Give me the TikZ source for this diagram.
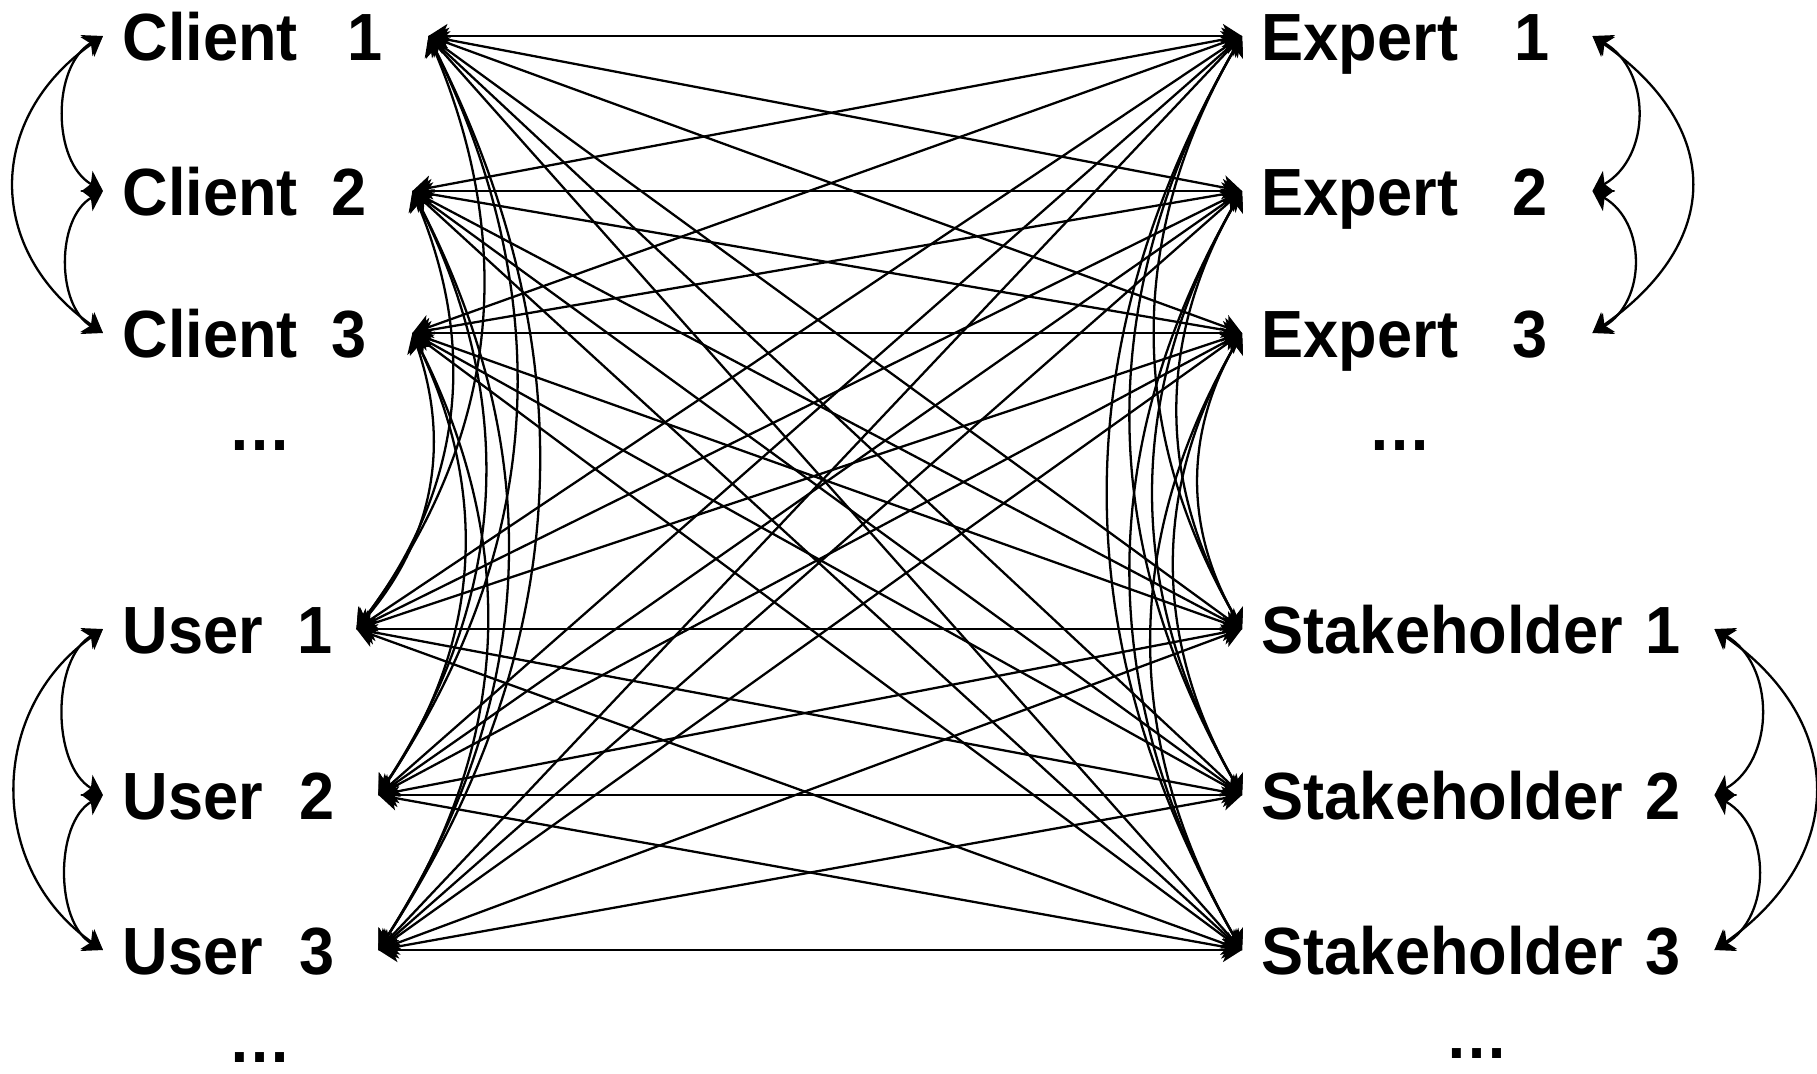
\documentclass[tikz,border=0pt]{standalone}
\usepackage{fontspec}
\usepackage{tikz}
\usetikzlibrary{arrows.meta}
\newfontfamily\lblfont{Liberation Sans}[FakeStretch=0.945]

\begin{document}
\begin{tikzpicture}[every node/.style={font=\lblfont\bfseries\fontsize{19}{22}\selectfont},
	lbl/.style={anchor=west, inner xsep=0.19cm, inner ysep=0pt, text height=0.48cm, text depth=0pt, align=left},
	more/.style={anchor=base, inner sep=0pt},
	link/.style={line width=0.65pt, >={Stealth[length=0.19cm, width=0.24cm, inset=0.05cm]}, <->}]
	\useasboundingbox (0,0) rectangle (18.17,-10.73);
	\foreach \y/\w/\txt[count = \i] in {-0.36/2.86/{Client\hspace{0.50cm}1}, -1.91/2.70/{Client\hspace{0.34cm}2}, -3.33/2.70/{Client\hspace{0.34cm}3}}
	{
		\node[lbl, text width=\w cm](c\i) at (1.03,\y){\txt};
	}
	\foreach \y/\w/\txt[count = \i] in {-6.29/2.14/{User\hspace{0.35cm}1}, -7.95/2.36/{User\hspace{0.37cm}2}, -9.50/2.36/{User\hspace{0.37cm}3}}
	{
		\node[lbl, text width=\w cm](u\i) at (1.03,\y){\txt};
	}
	\foreach \y/\txt[count = \i] in {-0.36/{Expert\hspace{0.56cm}1}, -1.91/{Expert\hspace{0.54cm}2}, -3.33/{Expert\hspace{0.54cm}3}}
	{
		\node[lbl, text width=3.11cm](e\i) at (12.42,\y){\txt};
	}
	\foreach \y/\txt[count = \i] in {-6.29/{Stakeholder 1}, -7.95/{Stakeholder 2}, -9.50/{Stakeholder 3}}
	{
		\node[lbl, text width=4.33cm](s\i) at (12.42,\y){\txt};
	}
	\node[more](cmore) at (2.60,-4.50){…};
	\node[more](umore) at (2.60,-10.62){…};
	\node[more](emore) at (14.00,-4.50){…};
	\node[more](smore) at (14.77,-10.58){…};

	\foreach \a in {c1,c2,c3,u1,u2,u3}
		\foreach \b in {e1,e2,e3,s1,s2,s3}
			\draw[link] (\a.east) -- (\b.west);
	\foreach \a in {c1,c2,c3}
		\foreach \b in {u1,u2,u3}
			\draw[link] (\a.east) to[bend left=30] (\b.east);
	\foreach \a in {e1,e2,e3}
		\foreach \b in {s1,s2,s3}
			\draw[link] (\a.west) to[bend right=30] (\b.west);

	\foreach \g/\l/\m in {c/0.98/1.24, u/0.92/1.13}
	{
		\draw[link] (\g1.west) to[out=210, in=150, looseness=\l] (\g2.west);
		\draw[link] (\g2.west) to[out=210, in=150, looseness=\l] (\g3.west);
		\draw[link] (\g1.west) to[out=215, in=145, looseness=\m] (\g3.west);
	}
	\foreach \g/\l/\m in {e/1.13/1.38, s/1.09/1.30}
	{
		\draw[link] (\g1.east) to[out=330, in=30, looseness=\l] (\g2.east);
		\draw[link] (\g2.east) to[out=330, in=30, looseness=\l] (\g3.east);
		\draw[link] (\g1.east) to[out=325, in=35, looseness=\m] (\g3.east);
	}
\end{tikzpicture}
\end{document}
